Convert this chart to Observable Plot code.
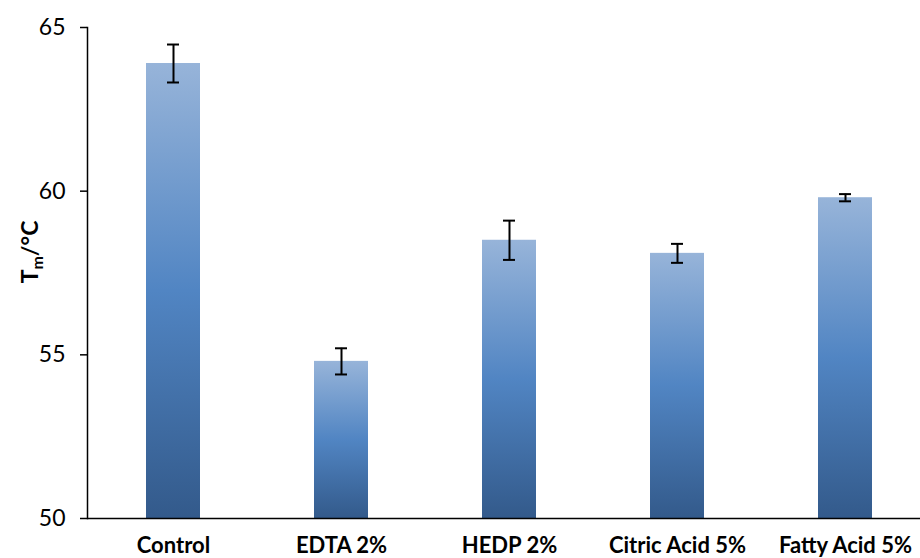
<!DOCTYPE html>
<html>
<head>
<meta charset="utf-8">
<script src="https://cdn.jsdelivr.net/npm/d3@7"></script>
<script src="https://cdn.jsdelivr.net/npm/@observablehq/plot@0.6"></script>
<style>
  html, body { margin: 0; padding: 0; background: #fff; overflow: hidden; }
  #chart svg { overflow: visible; }
</style>
</head>
<body>
<div id="chart"></div>
<script>
const categories = ["Control", "EDTA 2%", "HEDP 2%", "Citric Acid 5%", "Fatty Acid 5%"];
const values = [63.9, 54.8, 58.5, 58.1, 59.8];
const errors = [0.58, 0.4, 0.6, 0.29, 0.11];
const yTicks = [50, 55, 60, 65];

const data = categories.map((c, i) => ({cat: c, v: values[i], lo: values[i] - errors[i], hi: values[i] + errors[i]}));

const FONT = "Lato, 'Open Sans', sans-serif";

const plot = Plot.plot({
  width: 920,
  height: 558,
  marginTop: 27,
  marginBottom: 40,
  marginLeft: 87,
  marginRight: 0,
  style: {fontFamily: FONT, fontSize: "22px", color: "#000", background: "#fff"},
  x: {domain: categories, range: [87, 931], paddingInner: 0.68, paddingOuter: 0.34, label: null},
  y: {domain: [50, 65], label: null},
  marks: [
    Plot.barY(data, {x: "cat", y1: 50, y2: "v", fill: "url(#barGrad)"}),
    Plot.ruleX(data, {x: "cat", y1: "lo", y2: "hi", stroke: "#000", strokeWidth: 2}),
    Plot.tickY(data, {x: "cat", y: "lo", stroke: "#000", strokeWidth: 2, insetLeft: 21, insetRight: 21}),
    Plot.tickY(data, {x: "cat", y: "hi", stroke: "#000", strokeWidth: 2, insetLeft: 21, insetRight: 21}),
    Plot.axisY({ticks: yTicks, tickSize: 7, tickPadding: 15, tickFormat: d => String(d), stroke: "#000", strokeWidth: 1.5, fontSize: 23}),
    Plot.axisX({tickSize: 0, tickPadding: 19, fontWeight: "bold", fontSize: 22}),
    Plot.frame({anchor: "left", stroke: "#000", strokeWidth: 1.5}),
    Plot.ruleY([50], {stroke: "#000", strokeWidth: 1.5})
  ]
});

const svg = d3.select(plot);
const defs = svg.insert("defs", ":first-child");
const grad = defs.append("linearGradient").attr("id", "barGrad")
  .attr("x1", 0).attr("y1", 0).attr("x2", 0).attr("y2", 1);
grad.append("stop").attr("offset", "0%").attr("stop-color", "#97b4d9");
grad.append("stop").attr("offset", "50%").attr("stop-color", "#5185c3");
grad.append("stop").attr("offset", "100%").attr("stop-color", "#335a8b");

// y-axis title with subscript
const yLabel = svg.append("text")
  .attr("transform", "translate(38,252) rotate(-90)")
  .attr("text-anchor", "middle")
  .attr("font-family", FONT)
  .attr("font-weight", "bold")
  .attr("font-size", 23)
  .attr("fill", "#000");
yLabel.append("tspan").text("T");
yLabel.append("tspan").attr("font-size", 16).attr("dy", 5).text("m");
yLabel.append("tspan").attr("dy", -5).text("/°C");

document.getElementById("chart").appendChild(plot);
</script>
</body>
</html>
